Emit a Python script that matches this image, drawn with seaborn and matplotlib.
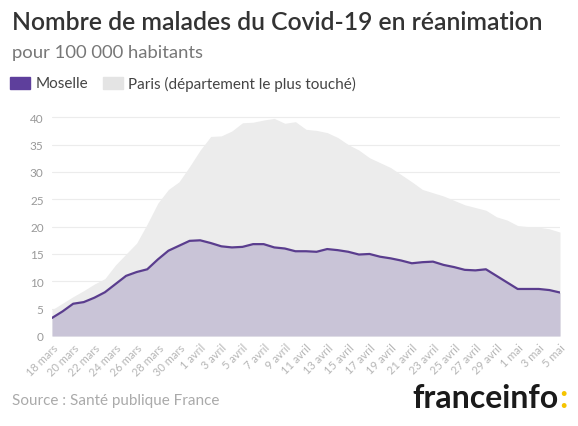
import pandas as pd
import numpy as np
import matplotlib.pyplot as plt
import seaborn as sns
from matplotlib.patches import Rectangle

# 18 mars -> 5 mai, one value per day
dates = pd.date_range("2020-03-18", "2020-05-05", freq="D")
moselle = [3.3, 4.5, 5.9, 6.2, 7.0, 8.0, 9.5, 11.0, 11.7, 12.2,
           14.0, 15.6, 16.5, 17.4, 17.5, 17.0, 16.4, 16.2, 16.3, 16.8,
           16.8, 16.2, 16.0, 15.5, 15.5, 15.4, 15.9, 15.7, 15.4, 14.9,
           15.0, 14.5, 14.2, 13.8, 13.3, 13.5, 13.6, 13.0, 12.6, 12.1,
           12.0, 12.2, 11.0, 9.8, 8.6, 8.6, 8.6, 8.4, 7.95]
paris = [4.8, 6.0, 7.2, 8.3, 9.5, 10.5, 13.0, 15.0, 17.0, 20.5,
         24.3, 26.8, 28.2, 31.0, 34.0, 36.5, 36.6, 37.5, 39.0, 39.1,
         39.5, 39.8, 38.9, 39.2, 37.8, 37.6, 37.2, 36.3, 35.0, 34.0,
         32.6, 31.7, 30.8, 29.5, 28.2, 26.8, 26.2, 25.6, 24.8, 24.0,
         23.5, 23.0, 21.8, 21.2, 20.2, 20.0, 19.9, 19.6, 19.0]
mois = {3: "mars", 4: "avril", 5: "mai"}
tick_labels = [f"{d.day} {mois[d.month]}" for d in dates[::2]]

df = pd.DataFrame({"jour": np.arange(len(dates)), "Moselle": moselle, "Paris": paris})

sns.set_style("white")
plt.rcParams['font.family'] = ['Lato', 'DejaVu Sans']

fig = plt.figure(figsize=(5.78, 4.27), dpi=100)
ax = fig.add_axes([52/578, 1 - 337/427, 508/578, 222/427])

ax.fill_between(df["jour"], df["Paris"], color="#ececec", lw=0, zorder=1)
ax.fill_between(df["jour"], df["Moselle"], color="#c9c4d7", lw=0, zorder=2)
sns.lineplot(data=df, x="jour", y="Moselle", color="#5a3d8e", lw=1.6, ax=ax, zorder=3)

ax.set_xlim(0, len(dates) - 1)
ax.set_ylim(0, 40.6)
ax.set_yticks(range(0, 41, 5))
ax.yaxis.grid(True, color="#ececec", lw=0.8, zorder=0)
ax.set_axisbelow(True)
ax.set_xticks(df["jour"][::2])
ax.set_xticklabels(tick_labels, rotation=45, ha="right", rotation_mode="anchor")
ax.tick_params(axis="x", labelsize=8, colors="#b5b5b5", length=0, pad=4)
ax.tick_params(axis="y", labelsize=8.5, colors="#999999", length=0, pad=6)
ax.set_xlabel("")
ax.set_ylabel("")
sns.despine(ax=ax, left=True, bottom=True)

fig.text(12/578, 1 - 22/427, "Nombre de malades du Covid-19 en réanimation",
         fontsize=17.8, color="#333333", va="center", fontweight="semibold")
fig.text(12/578, 1 - 53/427, "pour 100 000 habitants", fontsize=13.3, color="#777777", va="center")

fig.patches.append(Rectangle((10/578, 1 - 90/427), 20/578, 12/427, transform=fig.transFigure,
                             color="#5e3f9c", figure=fig))
fig.text(36/578, 1 - 84/427, "Moselle", fontsize=11, color="#444444", va="center")
fig.patches.append(Rectangle((103/578, 1 - 90/427), 20/578, 12/427, transform=fig.transFigure,
                             color="#e4e4e4", figure=fig))
fig.text(128/578, 1 - 84/427, "Paris (département le plus touché)", fontsize=11, color="#444444", va="center")

fig.text(12/578, 1 - 401/427, "Source : Santé publique France", fontsize=11, color="#aaaaaa", va="center")
logo = fig.text(412/578, 1 - 399/427, "franceinfo", fontsize=23, color="#1a1a1a", va="center",
                fontweight="bold")
fig.canvas.draw()
bb = logo.get_window_extent()
fig.text(bb.x1 / fig.bbox.width + 1/578, 1 - 399/427, ":", fontsize=23, color="#f5c400",
         va="center", fontweight="bold")

plt.savefig("out.png", dpi=100)
